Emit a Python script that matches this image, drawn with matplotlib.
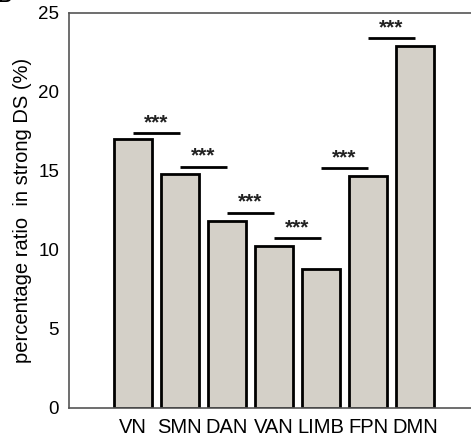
import numpy as np
import matplotlib.pyplot as plt

plt.rcParams['font.family'] = ['Liberation Sans', 'DejaVu Sans']

# data
networks = ['VN', 'SMN', 'DAN', 'VAN', 'LIMB', 'FPN', 'DMN']
ratio = [17.0, 14.8, 11.8, 10.25, 8.8, 14.7, 22.9]
# significance pairs (left index, right index, line height)
pairs = [(0, 1, 17.4), (1, 2, 15.27), (2, 3, 12.36), (3, 4, 10.74),
         (4, 5, 15.2), (5, 6, 23.4)]

fig = plt.figure(figsize=(4.71, 4.42), dpi=100)
ax = fig.add_axes([0.146, 0.077, 0.854, 0.894])

x = np.arange(len(networks))
ax.bar(x, ratio, width=0.81, color='#d4d0c8', edgecolor='black', linewidth=2, zorder=2)

for a, b, h in pairs:
    ax.plot([x[a], x[b]], [h, h], color='black', linewidth=2, solid_capstyle='butt')
    ax.text((x[a] + x[b]) / 2, h + 0.05, '***', ha='center', va='bottom',
            fontsize=15, fontweight='bold', color='#222222')

ax.set_xlim(-1.36, 7.19)
ax.set_ylim(0, 25)
ax.set_xticks(x)
ax.set_xticklabels(networks, fontsize=14.5)
ax.set_yticks([0, 5, 10, 15, 20, 25])
ax.tick_params(axis='y', length=0, labelsize=13.5, pad=7)
ax.tick_params(axis='x', length=0, pad=7)
ax.set_ylabel('percentage ratio  in strong DS (%)', fontsize=14.5, labelpad=4)

ax.spines['right'].set_visible(False)
for s in ['left', 'top', 'bottom']:
    ax.spines[s].set_color('#555555')
    ax.spines[s].set_linewidth(1.2)

fig.text(-0.005, 1.005, 'B', fontsize=14, fontweight='bold', ha='left', va='center')

fig.savefig('out.png', dpi=100)
